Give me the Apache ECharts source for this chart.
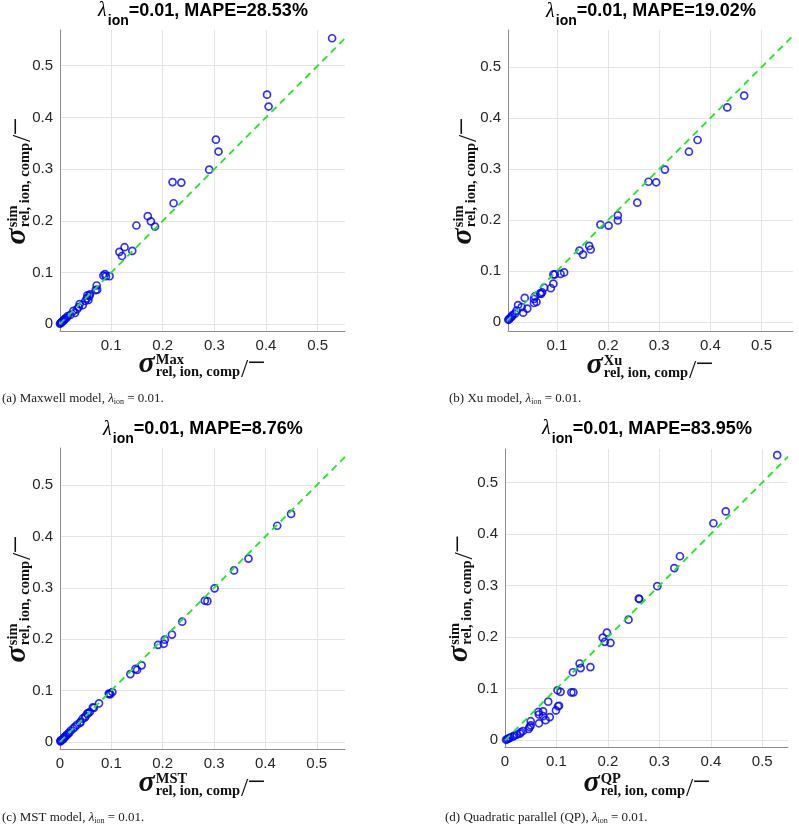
<!DOCTYPE html>
<html>
<head>
<meta charset="utf-8">
<script src="https://cdn.jsdelivr.net/npm/echarts@6/dist/echarts.min.js"></script>
<style>html,body{margin:0;padding:0;background:#fff}#c{width:799px;height:826px}</style>
</head>
<body>
<div id="c"></div>
<script>
// ---------------- data ----------------
const simY = [0.553,0.444,0.421,0.357,0.334,0.299,0.275,0.274,0.234,0.209,0.199,0.191,0.189,0.149,0.142,0.140,0.132,0.097,0.094,0.093,0.093,0.075,0.067,0.066,0.058,0.056,0.055,0.050,0.047,0.045,0.039,0.037,0.033,0.029,0.026,0.022,0.018,0.016,0.013,0.011,0.009,0.007,0.005,0.004,0.003,0.002,0.001];
const xMaxwell = [0.528,0.402,0.405,0.303,0.308,0.290,0.219,0.236,0.221,0.171,0.177,0.149,0.185,0.126,0.141,0.116,0.121,0.088,0.085,0.097,0.090,0.072,0.073,0.070,0.059,0.054,0.058,0.053,0.056,0.050,0.039,0.045,0.037,0.034,0.027,0.030,0.021,0.016,0.014,0.011,0.009,0.008,0.005,0.004,0.003,0.002,0.001];
const xXu = [0.563,0.466,0.433,0.375,0.358,0.311,0.279,0.294,0.257,0.219,0.219,0.185,0.201,0.163,0.166,0.144,0.151,0.114,0.107,0.096,0.093,0.093,0.075,0.088,0.071,0.067,0.069,0.057,0.037,0.055,0.060,0.055,0.024,0.031,0.042,0.021,0.034,0.018,0.013,0.012,0.010,0.008,0.006,0.005,0.004,0.003,0.002];
const xMST = [0.556,0.450,0.423,0.367,0.339,0.301,0.282,0.287,0.238,0.218,0.204,0.202,0.191,0.159,0.147,0.150,0.137,0.102,0.095,0.098,0.096,0.076,0.064,0.066,0.058,0.055,0.053,0.050,0.048,0.044,0.040,0.039,0.033,0.029,0.026,0.021,0.018,0.016,0.013,0.011,0.009,0.007,0.006,0.004,0.002,0.001,0.001];
const xQP = [0.529,0.429,0.405,0.340,0.329,0.296,0.260,0.261,0.240,0.198,0.190,0.194,0.205,0.145,0.166,0.147,0.132,0.102,0.108,0.133,0.129,0.084,0.105,0.103,0.099,0.074,0.065,0.066,0.074,0.087,0.079,0.050,0.066,0.050,0.048,0.046,0.035,0.031,0.029,0.023,0.018,0.015,0.010,0.008,0.006,0.004,0.002];
const mapeValues = ['28.53', '19.02', '8.76', '83.95'];
const modelSup = ['Max', 'Xu', 'MST', 'QP'];
const captions = ['(a) Maxwell model, ', '(b) Xu model, ', '(c) MST model, ', '(d) Quadratic parallel (QP), '];
const lambdaIon = '0.01';
const yTicks = [0, 0.1, 0.2, 0.3, 0.4, 0.5];
const xTicksNoZero = [0.1, 0.2, 0.3, 0.4, 0.5];
const xTicksZero = [0, 0.1, 0.2, 0.3, 0.4, 0.5];

// ---------------- layout ----------------
const panels = [
  {xs: xMaxwell, grid:{left:60, top:30, width:285, height:301}, x:[0.001,0.553], y:[-0.013,0.569], xt:xTicksNoZero,
   title:[203,11], xl:[202,374], yl:[27,181], cap:[2,398.6]},
  {xs: xXu, grid:{left:508, top:30, width:285, height:301}, x:[0.0043,0.5615], y:[-0.018,0.573], xt:xTicksNoZero,
   title:[651,11.5], xl:[650,375], yl:[473,181], cap:[449,398.6]},
  {xs: xMST, grid:{left:60, top:448, width:285, height:301}, x:[0,0.555], y:[-0.014,0.5725], xt:xTicksZero,
   title:[203,429.5], xl:[202,793], yl:[27,599], cap:[2,817.8]},
  {xs: xQP, grid:{left:505, top:449, width:283, height:298}, x:[0,0.550], y:[-0.013,0.565], xt:xTicksZero,
   title:[647,429], xl:[647,793], yl:[469,598.5], cap:[445,817.8]}
];

const SERIF = '"Liberation Serif", "DejaVu Serif", serif';
const SANS = '"Liberation Sans", Arial, sans-serif';
const TXT = '#262626';

const mctx = document.createElement('canvas').getContext('2d');
function measure(text, style, weight, size, family) {
  mctx.font = style + ' ' + weight + ' ' + size + 'px ' + family;
  return mctx.measureText(text).width;
}

// axis label: sigma^{sup}_{rel, ion, comp} / −   (local y = 0 is sigma baseline)
function axisLabel(sup, px, py, rotated) {
  const sSize = 30, subSize = 14.5, slSize = 26, miSize = 32;
  const k = 0.34;
  const wS = measure('σ', 'italic', 'bold', sSize, SERIF);
  const wSup = measure(sup, 'normal', 'bold', subSize, SERIF);
  const wSub = measure('rel, ion, comp', 'normal', 'bold', subSize, SERIF);
  const xs = wS + 1;
  const xSl = xs + Math.max(wSup, wSub) + 1;
  const wSl = measure('/', 'normal', 'normal', slSize, SERIF);
  const xMi = xSl + wSl - 1;
  const wMi = measure('−', 'normal', 'normal', miSize, SERIF);
  const W = xMi + wMi;
  const o = -W / 2;
  const mk = (text, x, base, style, weight, size) => ({
    type: 'text', x: o + x, y: base - k * size,
    style: {text: text, fontStyle: style, fontWeight: weight, fontSize: size, fontFamily: SERIF,
            fill: '#111', align: 'left', verticalAlign: 'middle'}
  });
  return {
    type: 'group', x: px, y: py, rotation: rotated ? Math.PI / 2 : 0,
    children: [
      mk('σ', 0, 0, 'italic', 'bold', sSize),
      mk(sup, xs, -9, 'normal', 'bold', subSize),
      mk('rel, ion, comp', xs, 3, 'normal', 'bold', subSize),
      mk('/', xSl, 5, 'normal', 'normal', slSize),
      mk('−', xMi, 1.5, 'normal', 'normal', miSize)
    ]
  };
}

const grids = [], xAxes = [], yAxes = [], series = [], graphics = [];
const fmt = v => String(Math.round(v * 10) / 10);

panels.forEach((p, i) => {
  grids.push(Object.assign({containLabel: false}, p.grid));
  xAxes.push({
    gridIndex: i, type: 'value', min: p.x[0], max: p.x[1],
    axisLine: {show: true, onZero: false, lineStyle: {color: '#8c8c8c', width: 1}},
    axisTick: {show: false, customValues: p.xt},
    axisLabel: {customValues: p.xt, formatter: fmt, color: TXT, fontSize: 15, fontFamily: SANS, margin: 7},
    splitLine: {show: true, lineStyle: {color: '#e4e4e4', width: 1}}
  });
  yAxes.push({
    gridIndex: i, type: 'value', min: p.y[0], max: p.y[1],
    axisLine: {show: true, onZero: false, lineStyle: {color: '#8c8c8c', width: 1}},
    axisTick: {show: false, customValues: yTicks},
    axisLabel: {customValues: yTicks, formatter: fmt, color: TXT, fontSize: 15, fontFamily: SANS, margin: 7},
    splitLine: {show: true, lineStyle: {color: '#e4e4e4', width: 1}}
  });
  series.push({
    type: 'scatter', xAxisIndex: i, yAxisIndex: i,
    data: simY.map((y, j) => [p.xs[j], y]),
    symbol: 'circle', symbolSize: 7,
    itemStyle: {color: 'rgba(0,0,0,0)', borderColor: '#0000ff', borderWidth: 1.7},
    z: 2, silent: true
  });
  series.push({
    type: 'line', xAxisIndex: i, yAxisIndex: i,
    data: [[0, 0], [p.x[1], p.x[1]]],
    symbol: 'none', clip: true,
    lineStyle: {color: '#1ee81e', width: 1.8, type: [7, 5]},
    z: 3, silent: true
  });
  // title
  graphics.push({
    type: 'text', x: p.title[0], y: p.title[1],
    style: {
      text: '{l|λ}{s|ion}{t|=' + lambdaIon + ', MAPE=' + mapeValues[i] + '%}',
      align: 'center', verticalAlign: 'middle',
      rich: {
        l: {fontFamily: SERIF, fontStyle: 'italic', fontSize: 20, fill: '#000', padding: [0, 1, 0, 0]},
        s: {fontFamily: SANS, fontWeight: 'bold', fontSize: 14, fill: '#000', padding: [20, 0, 0, 0]},
        t: {fontFamily: SANS, fontWeight: 'bold', fontSize: 18, fill: '#000'}
      }
    }
  });
  graphics.push(axisLabel(modelSup[i], p.xl[0], p.xl[1], false));
  graphics.push(axisLabel('sim', p.yl[0], p.yl[1], true));
  graphics.push({
    type: 'text', x: p.cap[0], y: p.cap[1],
    style: {
      text: captions[i] + '{l|λ}{s|ion} = ' + lambdaIon + '.',
      fontFamily: SERIF, fontSize: 13, fill: '#222', align: 'left', verticalAlign: 'middle',
      rich: {
        l: {fontFamily: SERIF, fontStyle: 'italic', fontSize: 13, fill: '#222'},
        s: {fontFamily: SERIF, fontSize: 8, fill: '#222', padding: [7, 0, 0, 0]}
      }
    }
  });
});

const chart = echarts.init(document.getElementById('c'), null, {renderer: 'canvas'});
chart.setOption({
  backgroundColor: '#fff',
  animation: false,
  grid: grids, xAxis: xAxes, yAxis: yAxes, series: series,
  graphic: graphics
});
</script>
</body>
</html>
